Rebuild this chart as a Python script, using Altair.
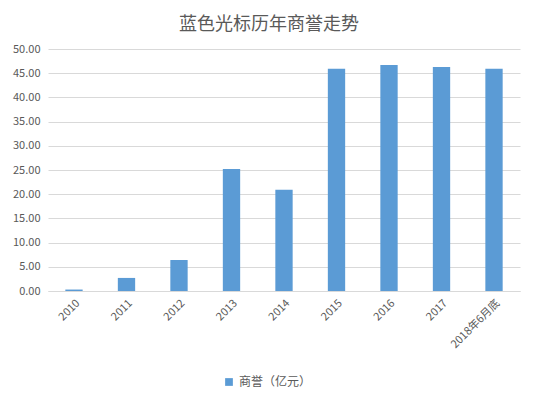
import altair as alt
import pandas as pd

categories = ["2010", "2011", "2012", "2013", "2014", "2015", "2016", "2017", "2018年6月底"]
goodwill = [0.3, 2.7, 6.4, 25.2, 20.9, 45.9, 46.7, 46.3, 45.9]
series_name = "商誉（亿元）"

df = pd.DataFrame({"year": categories, "value": goodwill, "series": [series_name] * len(categories)})

FONT = "Noto Sans CJK SC"
GRAY = "#595959"

chart = alt.Chart(df).mark_bar(color="#5B9BD5").encode(
    x=alt.X("year:N", sort=categories, title=None,
            scale=alt.Scale(paddingInner=0.67, paddingOuter=0.33),
            axis=alt.Axis(labelAngle=-45, labelFont=FONT, labelFontSize=11, labelColor=GRAY,
                          ticks=False, domainColor="#d9d9d9", labelPadding=6)),
    y=alt.Y("value:Q", title=None,
            scale=alt.Scale(domain=[0, 50]),
            axis=alt.Axis(values=list(range(0, 51, 5)), format=".2f", labelFont=FONT,
                          labelFontSize=11, labelColor=GRAY, ticks=False, domain=False,
                          gridColor="#d9d9d9", labelPadding=8)),
    color=alt.Color("series:N", scale=alt.Scale(range=["#5B9BD5"]),
                    legend=alt.Legend(title=None, orient="none", legendX=175, legendY=327,
                                      symbolType="square", symbolSize=60, labelFont=FONT,
                                      labelFontSize=12, labelColor=GRAY)),
).properties(
    width=472,
    height=242,
    autosize=alt.AutoSizeParams(type="none"),
    padding={"left": 40, "top": 41, "right": 5, "bottom": 99},
    title=alt.TitleParams("蓝色光标历年商誉走势", font=FONT, fontSize=18, fontWeight="normal",
                          color=GRAY, anchor="middle", dx=-15, offset=9),
).configure_view(stroke=None)

chart.save("out.html", embed_options={"renderer": "svg", "actions": False})
